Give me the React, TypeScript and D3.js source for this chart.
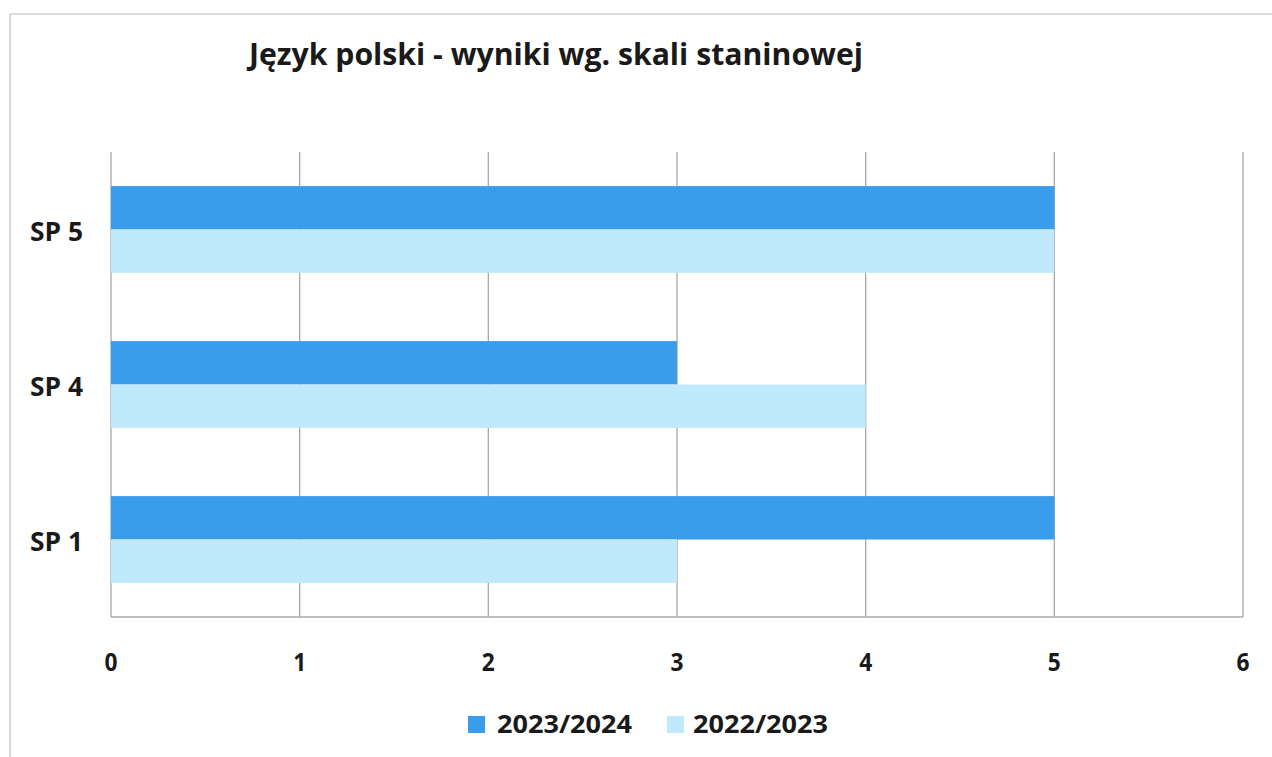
import React from "react";
import * as d3 from "d3";

const categories = ["SP 5", "SP 4", "SP 1"];
const seriesNames = ["2023/2024", "2022/2023"];
const values2023_2024 = [5, 3, 5];
const values2022_2023 = [5, 4, 3];
const xTicks = [0, 1, 2, 3, 4, 5, 6];
const title = "Język polski - wyniki wg. skali staninowej";

const colors = ["#3a9deb", "#c0eafb"];
const FONT = "'Open Sans', 'Liberation Sans', sans-serif";

export default function App() {
  const W = 1272, H = 757;
  const left = 111, right = 1243, top = 152, bottom = 617;
  const x = d3.scaleLinear().domain([0, 6]).range([left, right]);
  const y = d3.scaleBand<string>().domain(categories).range([top, bottom]).paddingInner(0.44).paddingOuter(0.22);
  const sub = d3.scaleBand<string>().domain(seriesNames).range([0, y.bandwidth()]);
  const series = [values2023_2024, values2022_2023];

  return (
    <svg width={W} height={H} style={{ position: "absolute", left: 0, top: 0, background: "#fff" }}>
      <rect x={0} y={0} width={W} height={H} fill="#fff" />
      <line x1={10} y1={14} x2={W} y2={14} stroke="#d0d0d0" strokeWidth={1.5} />
      <line x1={10} y1={14} x2={10} y2={H} stroke="#c8c8c8" strokeWidth={1.5} />
      <text x={556} y={65} textAnchor="middle" fontFamily={FONT} fontWeight={700} fontSize={30}
        fill="#1a1a1a" textLength={614} lengthAdjust="spacingAndGlyphs">{title}</text>
      {xTicks.map((t) => (
        <line key={"g" + t} x1={x(t)} x2={x(t)} y1={top} y2={bottom} stroke="#a8a8a8" strokeWidth={1.3} />
      ))}
      <line x1={left} x2={right} y1={bottom} y2={bottom} stroke="#a8a8a8" strokeWidth={1.3} />
      {categories.map((c, i) =>
        series.map((s, j) => (
          <rect key={c + j} x={x(0)} y={(y(c) as number) + (sub(seriesNames[j]) as number)}
            width={x(s[i]) - x(0)} height={sub.bandwidth()} fill={colors[j]} />
        ))
      )}
      {categories.map((c) => (
        <text key={"c" + c} x={56.5} y={(y(c) as number) + y.bandwidth() / 2 + 11.5} textAnchor="middle"
          fontFamily={FONT} fontWeight={700} fontSize={27} fill="#1a1a1a"
          textLength={53} lengthAdjust="spacingAndGlyphs">{c}</text>
      ))}
      {xTicks.map((t) => (
        <text key={"t" + t} x={x(t)} y={671} textAnchor="middle" fontFamily={FONT} fontWeight={700}
          fontSize={25} fill="#1a1a1a" textLength={13} lengthAdjust="spacingAndGlyphs">{t}</text>
      ))}
      {seriesNames.map((n, j) => {
        const sx = j === 0 ? 468 : 667;
        return (
          <g key={"l" + n}>
            <rect x={sx} y={716} width={17} height={17} fill={colors[j]} />
            <text x={sx + (j === 0 ? 29 : 26)} y={733} fontFamily={FONT} fontWeight={700} fontSize={25} fill="#1a1a1a"
              textLength={135} lengthAdjust="spacingAndGlyphs">{n}</text>
          </g>
        );
      })}
    </svg>
  );
}
